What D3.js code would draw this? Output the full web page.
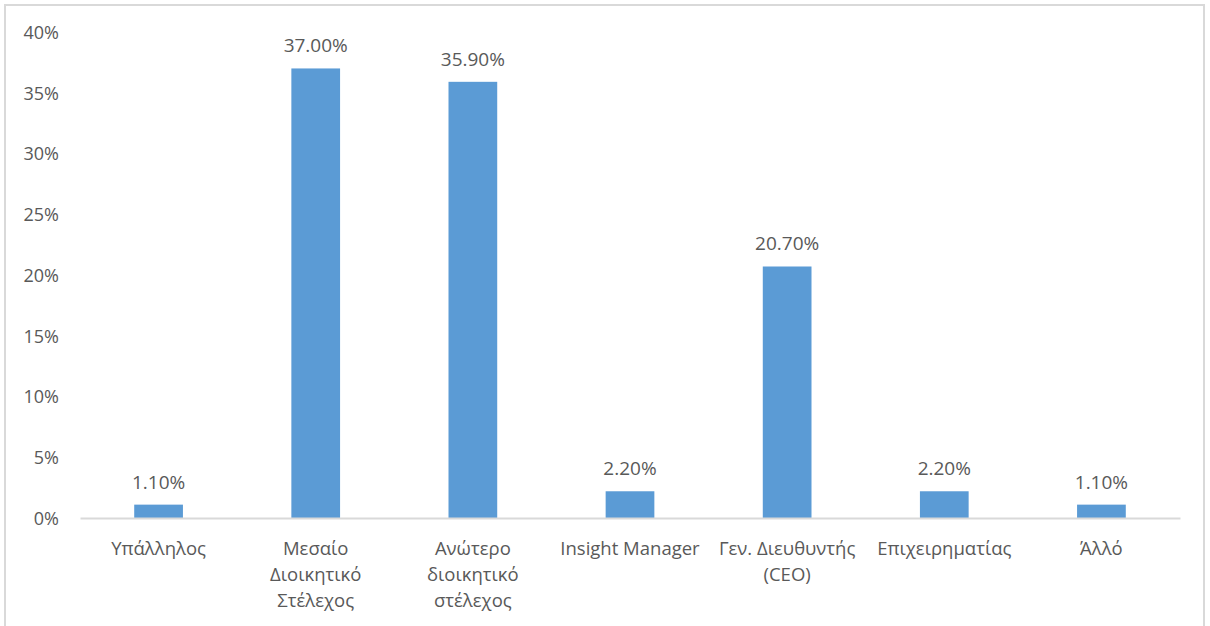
<!DOCTYPE html>
<html>
<head>
<meta charset="utf-8">
<script src="https://cdn.jsdelivr.net/npm/d3@7"></script>
<style>
  html, body { margin: 0; padding: 0; background: #fff; }
  svg { display: block; }
  text { font-family: "Open Sans", "Noto Sans", sans-serif; fill: #595959; }
</style>
</head>
<body>
<svg id="chart" width="1210" height="626"></svg>
<script>
// Job role distribution of respondents (percent)
const categories = [
  ["Υπάλληλος"],
  ["Μεσαίο", "Διοικητικό", "Στέλεχος"],
  ["Ανώτερο", "διοικητικό", "στέλεχος"],
  ["Insight Manager"],
  ["Γεν. Διευθυντής", "(CEO)"],
  ["Επιχειρηματίας"],
  ["Άλλό"]
];
const values = [1.10, 37.00, 35.90, 2.20, 20.70, 2.20, 1.10];
const yTicks = [0, 5, 10, 15, 20, 25, 30, 35, 40];

const svg = d3.select("#chart");

// Outer chart frame
svg.append("rect")
  .attr("x", 5).attr("y", 5)
  .attr("width", 1199).attr("height", 660)
  .attr("fill", "#fff")
  .attr("stroke", "#d9d9d9").attr("stroke-width", 2);

const plot = { left: 80, right: 1180, top: 32, bottom: 518 };

const x = d3.scaleBand()
  .domain(d3.range(categories.length))
  .range([plot.left, plot.right])
  .paddingInner(0.69)
  .paddingOuter(0.345);

const y = d3.scaleLinear()
  .domain([0, 40])
  .range([plot.bottom, plot.top]);

// Y axis labels (no axis line, no gridlines)
const yAxis = d3.axisLeft(y)
  .tickValues(yTicks)
  .tickFormat(d => d + "%")
  .tickSize(0)
  .tickPadding(0);

const yg = svg.append("g")
  .attr("transform", `translate(${59},0)`)
  .call(yAxis);
yg.select(".domain").remove();
yg.selectAll("text")
  .attr("font-size", 18)
  .attr("font-family", "\"Open Sans\", sans-serif")
  .attr("fill", "#595959")
  .attr("dy", "0.35em");

// Bars
svg.append("g").selectAll("rect")
  .data(values)
  .join("rect")
  .attr("x", (d, i) => x(i))
  .attr("width", x.bandwidth())
  .attr("y", d => y(d))
  .attr("height", d => y(0) - y(d))
  .attr("fill", "#5b9bd5");

// Category axis line
const xAxis = d3.axisBottom(x).tickSize(0).tickFormat("");
const xg = svg.append("g")
  .attr("transform", `translate(0,${plot.bottom})`)
  .call(xAxis);
xg.select(".domain")
  .attr("stroke", "#d9d9d9")
  .attr("stroke-width", 2);

// Multi-line category labels
const catG = svg.append("g");
categories.forEach((lines, i) => {
  const cx = x(i) + x.bandwidth() / 2;
  const t = catG.append("text")
    .attr("x", cx)
    .attr("y", 555)
    .attr("text-anchor", "middle")
    .attr("font-size", 18.5);
  lines.forEach((ln, k) => {
    t.append("tspan")
      .attr("x", cx)
      .attr("dy", k === 0 ? 0 : 26)
      .text(ln);
  });
});

// Value labels above bars
svg.append("g").selectAll("text")
  .data(values)
  .join("text")
  .attr("x", (d, i) => x(i) + x.bandwidth() / 2)
  .attr("y", d => y(d) - 16)
  .attr("text-anchor", "middle")
  .attr("font-size", 19)
  .text(d => d.toFixed(2) + "%");
</script>
</body>
</html>
